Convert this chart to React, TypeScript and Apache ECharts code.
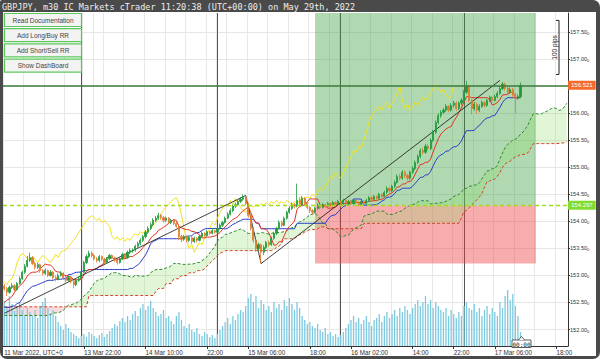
import React, { useEffect, useRef } from "react";
import * as echarts from "echarts";

// ---------- data ----------
const TITLE = "GBPJPY, m30 IC Markets cTrader 11:20:38 (UTC+00:00) on May 29th, 2022";
const buttons = ["Read Documentation", "Add Long/Buy RR", "Add Short/Sell RR", "Show DashBoard"];

// trading sessions shown on the axis: [first bar (UTC), number of 30-min slots]
const sessions: [string, number][] = [["2022-03-11T06:00:00Z", 29], ["2022-03-13T21:00:00Z", 191]];

const firstOpen = 152.8;
const closes = [
  152.76,152.69,152.78,152.81,152.74,152.85,152.94,153.06,153.17,153.28,
  153.33,153.22,153.15,153.20,153.09,153.04,153.09,153.00,153.06,152.96,
  152.93,153.00,153.04,152.96,152.91,152.96,152.89,152.83,152.91,152.94,
  153.06,153.24,153.35,153.41,153.37,153.31,153.28,153.35,153.30,153.24,
  153.31,153.37,153.33,153.28,153.24,153.31,153.39,153.33,153.43,153.46,
  153.47,153.54,153.59,153.65,153.72,153.80,153.87,153.94,154.02,154.06,
  154.11,154.07,154.02,154.06,153.98,154.02,153.96,153.91,153.72,153.67,
  153.72,153.65,153.70,153.63,153.69,153.65,153.72,153.78,153.74,153.81,
  153.78,153.83,153.80,153.87,153.93,153.98,154.06,154.13,154.20,154.28,
  154.31,154.37,154.41,154.44,154.33,154.11,153.87,153.65,153.50,153.57,
  153.43,153.52,153.61,153.57,153.69,153.78,153.87,153.98,153.93,154.06,
  154.17,154.24,154.31,154.28,154.39,154.31,154.43,154.33,154.26,154.20,
  154.17,154.24,154.30,154.26,154.31,154.28,154.33,154.30,154.35,154.31,
  154.37,154.33,154.39,154.33,154.37,154.33,154.39,154.35,154.31,154.37,
  154.33,154.39,154.44,154.41,154.46,154.43,154.50,154.46,154.54,154.61,
  154.57,154.65,154.72,154.83,154.80,154.91,154.85,154.80,154.91,154.98,
  155.09,155.20,155.31,155.28,155.39,155.35,155.50,155.65,155.83,155.96,
  156.02,156.06,156.13,156.06,156.15,156.19,156.09,156.19,156.24,156.39,
  156.50,156.24,156.09,156.17,156.06,156.13,156.20,156.15,156.24,156.30,
  156.24,156.31,156.37,156.46,156.54,156.46,156.39,156.44,156.35,156.28,
  156.31,156.52
];
const highs = [
  152.84,152.79,152.81,152.86,152.84,152.88,152.98,153.09,153.21,153.36,
  153.42,153.36,153.26,153.24,153.22,153.12,153.13,153.11,153.10,153.08,
  153.00,153.04,153.08,153.06,152.99,152.99,152.98,152.92,152.94,152.98,
  153.09,153.27,153.39,153.46,153.45,153.40,153.34,153.38,153.37,153.33,
  153.34,153.40,153.39,153.35,153.31,153.34,153.42,153.41,153.46,153.50,
  153.50,153.57,153.63,153.69,153.75,153.84,153.91,153.98,154.06,154.10,
  154.16,154.14,154.10,154.09,154.08,154.05,154.04,153.99,153.93,153.76,
  153.75,153.74,153.73,153.72,153.72,153.71,153.75,153.81,153.80,153.84,
  153.83,153.86,153.85,153.90,153.96,154.01,154.09,154.17,154.24,154.31,
  154.35,154.41,154.45,154.50,154.47,154.35,154.13,153.89,153.67,153.61,
  153.59,153.56,153.64,153.65,153.72,153.81,153.90,154.02,154.01,154.09,
  154.20,154.28,154.35,154.34,154.70,154.45,154.47,154.45,154.36,154.29,
  154.23,154.27,154.33,154.32,154.34,154.33,154.36,154.35,154.38,154.37,
  154.40,154.39,154.42,154.41,154.40,154.39,154.42,154.41,154.37,154.40,
  154.39,154.42,154.47,154.46,154.49,154.48,154.53,154.52,154.57,154.65,
  154.64,154.68,154.76,154.87,154.88,154.95,154.94,154.88,154.94,155.02,
  155.13,155.24,155.35,155.36,155.43,155.43,155.54,155.69,155.87,156.00,
  156.06,156.10,156.17,156.15,156.19,156.23,156.22,156.22,156.28,156.43,
  156.60,156.53,156.27,156.21,156.20,156.17,156.24,156.23,156.27,156.33,
  156.32,156.35,156.41,156.50,156.58,156.57,156.49,156.48,156.47,156.38,
  156.35,156.57
];
const lows = [
  152.72,152.62,152.66,152.75,152.70,152.72,152.83,152.92,153.03,153.15,
  153.25,153.19,153.11,153.12,153.05,153.00,153.01,152.97,152.98,152.93,
  152.89,152.91,152.98,152.92,152.87,152.88,152.85,152.76,152.80,152.88,
  152.92,153.04,153.21,153.32,153.33,153.28,153.24,153.25,153.27,153.21,
  153.22,153.29,153.30,153.25,153.20,153.22,153.29,153.30,153.31,153.40,
  153.42,153.44,153.51,153.56,153.62,153.69,153.77,153.84,153.91,153.99,
  154.03,154.03,153.98,153.99,153.95,153.95,153.93,153.88,153.66,153.62,
  153.64,153.61,153.62,153.58,153.60,153.61,153.63,153.70,153.71,153.72,
  153.75,153.76,153.77,153.78,153.85,153.90,153.96,154.04,154.11,154.17,
  154.25,154.29,154.34,154.38,154.30,154.07,153.83,153.60,153.44,153.46,
  153.23,153.38,153.49,153.53,153.55,153.66,153.75,153.85,153.89,153.91,
  154.03,154.14,154.21,154.24,154.26,154.27,154.29,154.30,154.22,154.16,
  154.13,154.15,154.22,154.23,154.24,154.25,154.26,154.27,154.28,154.28,
  154.29,154.30,154.31,154.30,154.31,154.30,154.31,154.32,154.28,154.29,
  154.30,154.31,154.36,154.38,154.39,154.40,154.41,154.43,154.44,154.51,
  154.53,154.54,154.62,154.70,154.76,154.77,154.81,154.76,154.77,154.88,
  154.95,155.06,155.17,155.23,155.25,155.31,155.32,155.47,155.62,155.80,
  155.92,155.99,156.03,156.02,156.03,156.11,156.05,156.06,156.15,156.21,
  156.36,156.20,155.98,156.05,155.99,156.02,156.10,156.11,156.12,156.21,
  156.20,156.22,156.28,156.34,156.43,156.42,156.35,156.36,156.31,156.00,
  156.25,156.29
];
const volumes = [
  1800,1520,2000,1680,1400,1600,1760,1440,1200,1520,1360,
  1200,1440,1120,1600,1760,1920,1520,1280,1440,1200,
  960,800,640,880,720,560,480,400,
  320,400,480,360,560,480,400,320,440,520,360,480,
  600,720,880,800,1000,1120,960,1200,1040,1280,
  1400,1200,1520,1680,1440,1600,1800,1520,1360,1200,
  1280,1440,1120,1200,1000,880,1200,1360,1040,800,
  720,880,640,560,720,480,400,560,480,360,440,320,
  480,640,800,960,1120,880,1200,1040,1280,1440,1360,
  1600,1920,2080,1760,2000,1520,1840,1680,1440,1600,1360,
  1760,1520,1680,1440,1840,1600,1920,1680,1440,1760,1520,
  1200,1040,880,960,800,720,880,640,560,720,480,
  560,400,480,360,440,560,720,880,1040,1200,960,
  1120,880,1040,1200,960,800,1040,1120,1280,960,1200,
  1360,1120,1280,1440,1200,1520,1360,1600,1440,1280,1520,
  1680,1840,1600,1760,2000,1680,1840,1520,1760,1600,1440,
  1360,1520,1200,1440,1280,1120,1360,1200,1600,1760,1520,
  1440,1680,1360,1520,1200,1440,1600,1280,1520,1360,1200,
  1760,1520,2000,2240,1840,2080,1600,1200,560
];

// Ichimoku values at the left edge (their look-back lies before the first bar shown)
const tenkanHead = [152.50,152.54,152.57,152.61,152.69,152.76,152.81,152.85];
const kijunHead = [152.41,152.41,152.41,152.43,152.44,152.48,152.50,152.57,152.65,152.72,152.76,152.80,152.81,
  152.83,152.85,152.87,152.89,152.91,152.91,152.91,152.93,152.93,152.93,152.94,152.94];
const senkouAHead = [152.26,152.26,152.26,152.26,152.26,152.26,152.26,152.26,152.26,152.26,152.26,152.26,152.26,
  152.26,152.26,152.26,152.26,152.26,152.28,152.30,152.31,152.31,152.33,152.35,152.41,152.45];
const senkouBHead = [
  152.42,152.42,152.42,152.42,152.42,152.42,152.42,152.42,152.42,152.42,152.42,152.42,152.42,152.42,152.42,152.42,152.42,
  152.42,152.42,152.42,152.42,152.42,152.42,152.42,152.42,152.42,152.42,152.42,152.42,152.42,152.42,152.42,152.42,
  152.63,152.63,152.63,152.63,152.63,152.63,152.63,152.63,152.63,152.63,152.63,152.63,152.63,152.63,152.63,152.63,
  152.63,152.63,152.63,152.63,152.63,152.63,152.63,152.63,152.63,152.63,
  152.70,152.76,152.76,152.76,152.85,152.85,152.85,152.94,152.94,152.94,153.00,153.00,153.00,153.05,153.05,153.05,153.09,153.09
];

const yTicks = [152, 152.5, 153, 153.5, 154, 154.5, 155, 155.5, 156, 156.5, 157, 157.5];
// 156.50 sits under the current-price tag in the reference, so it shows no label
const yLabels = [152, 152.5, 153, 153.5, 154, 154.5, 155, 155.5, 156, 157, 157.5];
const xTickLabels: [string, string][] = [
  ["2022-03-11 06:00", "11 Mar 2022, UTC+0"],
  ["2022-03-13 22:00", "13 Mar 22:00"],
  ["2022-03-14 10:00", "14 Mar 10:00"],
  ["2022-03-14 22:00", "22:00"],
  ["2022-03-15 06:00", "15 Mar 06:00"],
  ["2022-03-15 18:00", "18:00"],
  ["2022-03-16 02:00", "16 Mar 02:00"],
  ["2022-03-16 14:00", "14:00"],
  ["2022-03-16 22:00", "22:00"],
  ["2022-03-17 06:00", "17 Mar 06:00"],
  ["2022-03-17 18:00", "18:00"],
];
const separators = ["2022-03-13 21:30", "2022-03-15 00:00", "2022-03-16 00:00", "2022-03-17 00:00"];
const gridHours = [22, 0, 2, 6, 10, 14, 18];

const currentPrice = 156.521;
const entryPrice = 154.297;
const stopPrice = 153.22;
const rrStart = "2022-03-15 19:00";
const rrEnd = "2022-03-17 14:00";
// black pattern line: [bar index, price]
const trendPoints = [[0, 152.3], [94, 154.48], [100, 153.22], [193, 156.61]];
const pipsRange = [157.72, 156.72];

const Y_MIN = 151.695;
const Y_MAX = 157.857;
const SANS = "'Liberation Sans', Arial, sans-serif";
const MONO = "'DejaVu Sans Mono', monospace";

function pad(n: number) { return n < 10 ? "0" + n : "" + n; }
function buildCategories(): string[] {
  const out: string[] = [];
  for (const [start, count] of sessions) {
    const t0 = Date.parse(start);
    for (let k = 0; k < count; k++) {
      const d = new Date(t0 + k * 1800000);
      out.push(`${d.getUTCFullYear()}-${pad(d.getUTCMonth() + 1)}-${pad(d.getUTCDate())} ${pad(d.getUTCHours())}:${pad(d.getUTCMinutes())}`);
    }
  }
  return out;
}

function midpoint(period: number, i: number): number | null {
  if (i - period + 1 < 0 || i >= closes.length) return null;
  let hi = -Infinity, lo = Infinity;
  for (let k = i - period + 1; k <= i; k++) { hi = Math.max(hi, highs[k]); lo = Math.min(lo, lows[k]); }
  return (hi + lo) / 2;
}

export default function App() {
  const ref = useRef<HTMLDivElement>(null);
  useEffect(() => {
    if (!ref.current) return;
    const chart = echarts.init(ref.current, null, { renderer: "svg" });
    const categories = buildCategories();
    const n = closes.length;
    const total = categories.length;
    const ohlc = closes.map((c, i) => [i === 0 ? firstOpen : closes[i - 1], c, lows[i], highs[i]]);
    const tenkan = closes.map((_, i) => (i < tenkanHead.length ? tenkanHead[i] : midpoint(9, i)));
    const kijun = closes.map((_, i) => (i < kijunHead.length ? kijunHead[i] : midpoint(26, i)));
    const senkouA: (number | null)[] = [];
    const senkouB: (number | null)[] = [];
    for (let j = 0; j < total; j++) {
      if (j < senkouAHead.length) senkouA.push(senkouAHead[j]);
      else {
        const s = j - 26;
        senkouA.push(s < n && tenkan[s] != null && kijun[s] != null ? ((tenkan[s] as number) + (kijun[s] as number)) / 2 : null);
      }
      senkouB.push(j < senkouBHead.length ? senkouBHead[j] : midpoint(52, j - 26));
    }
    const chikou = closes.map((_, i) => (i + 26 < n ? closes[i + 26] : null));
    const cloudBase: (number | null)[] = [], cloudUp: (number | null)[] = [], cloudDn: (number | null)[] = [];
    for (let j = 0; j < total; j++) {
      const a = senkouA[j], b = senkouB[j];
      if (a == null || b == null) { cloudBase.push(null); cloudUp.push(null); cloudDn.push(null); continue; }
      cloudBase.push(Math.min(a, b));
      cloudUp.push(a >= b ? a - b : 0);
      cloudDn.push(b > a ? b - a : 0);
    }
    const labelMap = new Map(xTickLabels);
    const isGrid = (v: string) => {
      const h = parseInt(v.slice(11, 13), 10), m = v.slice(14, 16);
      return m === "00" && gridHours.indexOf(h) >= 0;
    };
    const line = (name: string, data: any[], color: string, extra: any = {}) => ({
      name, type: "line", data, symbol: "none", silent: true, z: 2,
      lineStyle: { color, width: 1, ...(extra.lineStyle || {}) },
    });
    const priceLine = (name: string, value: number, color: string, width: number, type: any, tagColor: string) => ({
      name, type: "line", data: [], symbol: "none", silent: true, z: 4,
      color,
      markLine: {
        silent: true, z: 6, symbol: ["none", "none"],
        lineStyle: { color, width, type, opacity: 1 },
        label: { show: true, position: "end", formatter: String(value), backgroundColor: tagColor, color: "#fff",
          fontSize: 6, fontFamily: SANS, padding: [2, 3, 1, 3], distance: 0 },
        data: [{ yAxis: value, lineStyle: { color, width, type } }],
      },
    });

    const option: any = {
      animation: false,
      grid: { left: 3, right: 32, top: 13, bottom: 13 },
      xAxis: {
        type: "category", data: categories, boundaryGap: true,
        axisLine: { show: true, lineStyle: { color: "#333", width: 1 } },
        axisTick: { show: true, alignWithLabel: true, length: 3, lineStyle: { color: "#333" },
          interval: (i: number, v: string) => i > 0 && labelMap.has(v) },
        axisLabel: { interval: (_i: number, v: string) => labelMap.has(v), formatter: (v: string) => labelMap.get(v) || "",
          align: "left", fontSize: 6.3, color: "#333", fontFamily: SANS, margin: 3 },
        splitLine: { show: true, interval: (_i: number, v: string) => isGrid(v), lineStyle: { color: "#e8e8e8", width: 1 } },
      },
      yAxis: [
        {
          type: "value", position: "right", min: Y_MIN, max: Y_MAX,
          axisLine: { show: true, lineStyle: { color: "#333", width: 1 } },
          axisTick: { show: true, customValues: yTicks, length: 2, lineStyle: { color: "#333" } },
          axisLabel: { customValues: yLabels, margin: 2, formatter: (v: number) => `{a|${v.toFixed(2)}}{b|0}`,
            rich: { a: { fontSize: 5.6, color: "#333", fontFamily: SANS }, b: { fontSize: 4, color: "#333", fontFamily: SANS, verticalAlign: "bottom", padding: [3, 0, 0, 0] } } },
          splitLine: { show: false },
        },
        { type: "value", min: 0, max: 13320, show: false },
      ],
      series: [
        {
          name: "marks", type: "line", data: categories.map(() => null), symbol: "none", silent: true,
          markLine: {
            silent: true, z: 0, symbol: ["none", "none"], label: { show: false },
            data: [
              ...yTicks.map((v) => ({ yAxis: v, lineStyle: { color: "#e6e6e6", width: 1, type: "solid" } })),
              ...separators.map((c) => ({ xAxis: c, lineStyle: { color: "#555", width: 1, type: "solid" } })),
            ],
          },
          markArea: {
            silent: true, z: 1,
            data: [
              [{ xAxis: rrStart, yAxis: entryPrice, itemStyle: { color: "rgba(60,160,60,0.4)" } }, { xAxis: rrEnd, yAxis: Y_MAX }],
              [{ xAxis: rrStart, yAxis: stopPrice, itemStyle: { color: "rgba(235,60,60,0.42)" } }, { xAxis: rrEnd, yAxis: entryPrice }],
            ],
          },
        },
        { name: "volume", type: "bar", yAxisIndex: 1, data: volumes, barWidth: 1.3, itemStyle: { color: "#7ccae0" }, z: 2, silent: true },
        { name: "cloudBase", type: "line", stack: "cloud", data: cloudBase, symbol: "none", silent: true, lineStyle: { opacity: 0 }, z: 2 },
        { name: "cloudUp", type: "line", stack: "cloud", data: cloudUp, symbol: "none", silent: true, lineStyle: { opacity: 0 }, areaStyle: { color: "rgba(140,222,100,0.38)" }, z: 2 },
        { name: "cloudDn", type: "line", stack: "cloud", data: cloudDn, symbol: "none", silent: true, lineStyle: { opacity: 0 }, areaStyle: { color: "rgba(235,120,120,0.38)" }, z: 2 },
        line("senkouA", senkouA, "#2c8a2c", { lineStyle: { type: [3, 2] } }),
        line("senkouB", senkouB, "#d0402a", { lineStyle: { type: [3, 2] } }),
        line("chikou", chikou, "#efe21c"),
        line("kijun", kijun, "#2a3ec8"),
        line("tenkan", tenkan, "#e0341e"),
        line("trend", trendPoints, "#111", { lineStyle: { width: 0.8 } }),
        {
          name: "price", type: "candlestick", data: ohlc, barWidth: 1.7, z: 3, silent: true,
          itemStyle: { color: "#1e9a3a", color0: "#e07a2c", borderColor: "#1e9a3a", borderColor0: "#e07a2c", borderWidth: 0.8 },
        },
        priceLine("currentPrice", currentPrice, "#3d7d3d", 1.5, "solid", "#f26b2d"),
        priceLine("entryPrice", entryPrice, "#9fdc1e", 1.3, [4, 3], "#80dd2f"),
      ],
    };
    chart.setOption(option);

    const lastX = chart.convertToPixel({ xAxisIndex: 0 }, categories[n - 1]) as number;
    const pTop = chart.convertToPixel({ yAxisIndex: 0 }, pipsRange[0]) as number;
    const pBot = chart.convertToPixel({ yAxisIndex: 0 }, pipsRange[1]) as number;
    const bx = 559;
    const graphic: any[] = [
      { type: "rect", silent: true, z: -100, shape: { x: 0, y: 0, width: 600, height: 359, r: [2, 7, 7, 7] }, style: { fill: "#4a4a4a" } },
      { type: "rect", silent: true, z: -99, shape: { x: 3, y: 12, width: 593, height: 344 }, style: { fill: "#ffffff" } },
      { type: "text", silent: true, z: 100, x: 2, y: 6.5, style: { text: TITLE, fill: "#eeeeee", fontSize: 8.5, fontFamily: MONO, verticalAlign: "middle" } },
      ...buttons.map((b, k) => ({
        type: "group", silent: true, z: 100,
        children: [
          { type: "rect", z: 100, shape: { x: 4.5, y: 13.5 + k * 15.2, width: 77, height: 13 }, style: { fill: "#f3f3f3", stroke: "#5cc85c", lineWidth: 1.2 } },
          { type: "text", z: 101, x: 43, y: 20 + k * 15.2, style: { text: b, fill: "#444", fontSize: 6.5, fontFamily: SANS, align: "center", verticalAlign: "middle" } },
        ],
      })),
      { type: "polyline", silent: true, z: 100, shape: { points: [[bx - 3, pTop], [bx, pTop], [bx, pBot], [bx - 3, pBot]] }, style: { stroke: "#222", lineWidth: 1, fill: null } },
      { type: "text", silent: true, z: 100, x: bx - 5, y: (pTop + pBot) / 2, rotation: Math.PI / 2,
        style: { text: "100 pips", fill: "#222", fontSize: 6.5, fontFamily: SANS, align: "center", verticalAlign: "middle" } },
      { type: "rect", silent: true, z: 100, shape: { x: lastX - 8.5, y: 340, width: 19, height: 7.5 }, style: { fill: "#fff", stroke: "#333", lineWidth: 0.8 } },
      { type: "polyline", silent: true, z: 101, shape: { points: [[lastX - 2, 340], [lastX + 1, 336.5], [lastX + 4, 340]] }, style: { stroke: "#333", lineWidth: 0.8, fill: "#fff" } },
      { type: "text", silent: true, z: 102, x: lastX + 1, y: 344, style: { text: "00:00", fill: "#222", fontSize: 6, fontFamily: MONO, align: "center", verticalAlign: "middle" } },
    ];
    chart.setOption({ graphic });
    return () => chart.dispose();
  }, []);
  return <div ref={ref} style={{ position: "absolute", left: 0, top: 0, width: 600, height: 359 }} />;
}
